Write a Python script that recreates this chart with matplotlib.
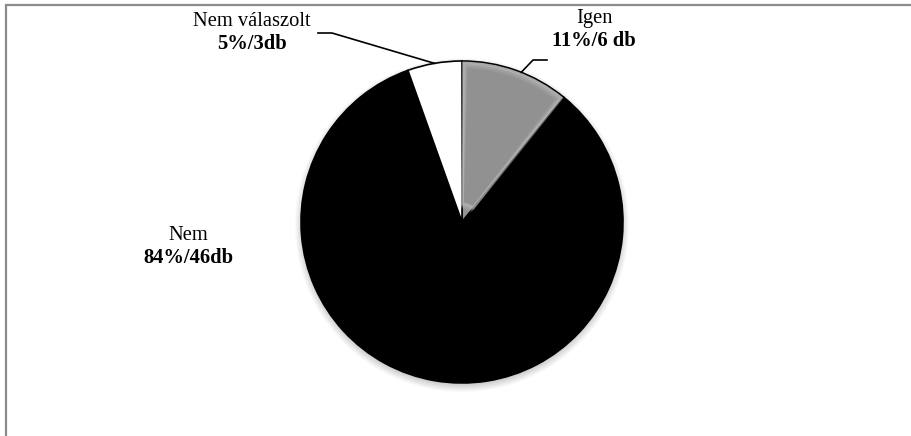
import numpy as np
import matplotlib.pyplot as plt
from matplotlib.patches import Rectangle, Circle, Wedge

# answers and counts
labels = ["Igen", "Nem", "Nem válaszolt"]
counts = [6, 46, 3]
value_labels = ["11%/6 db", "84%/46db", "5%/3db"]
colors = ["#919191", "#000000", "#ffffff"]

W, H = 912, 436
fig = plt.figure(figsize=(W / 100, H / 100), dpi=100)
ax = fig.add_axes([0, 0, 1, 1])

cx, cy, r = 462, H - 222, 161

# soft shadow under the pie
for k in range(8):
    ax.add_patch(Circle((cx, cy - 3), r + 6 - k, color="black", alpha=0.025, lw=0, zorder=0))

wedges, _ = ax.pie(
    counts,
    startangle=90,
    counterclock=False,
    colors=colors,
    center=(cx, cy),
    radius=r,
    wedgeprops=dict(edgecolor="black", linewidth=1.2),
)
for w in wedges:
    w.set_zorder(2)

# lighter bevel inside the grey slice
g = wedges[0]
for i, a in enumerate([0.5, 0.3, 0.15]):
    ax.add_patch(Wedge((cx, cy), r - 2 - 2 * i, g.theta1 + 0.5 + 0.6 * i, g.theta2 - 0.5 - 0.6 * i,
                       width=r - 20, facecolor="none", edgecolor="#c4c4c4",
                       alpha=a, lw=2, zorder=3))


def edge_point(w, frac=0.5):
    ang = np.deg2rad(w.theta1 + (w.theta2 - w.theta1) * frac)
    return cx + r * np.cos(ang), cy + r * np.sin(ang)


font = dict(family="Liberation Serif", fontsize=14.8, color="black", ha="center", va="center")

# Igen
ax.text(594, H - 18, labels[0], **font)
ax.text(594, H - 41, value_labels[0], fontweight="bold", **font)
px, py = edge_point(wedges[0], 0.45)
ax.plot([px, 533, 547], [py, H - 60, H - 60], color="black", lw=1.2, zorder=4)

# Nem
ax.text(188, H - 235, labels[1], **font)
ax.text(188, H - 258, value_labels[1], fontweight="bold", **font)

# Nem válaszolt
ax.text(252, H - 21, labels[2], **font)
ax.text(252, H - 44, value_labels[2], fontweight="bold", **font)
px, py = edge_point(wedges[2], 0.5)
ax.plot([318, 332, px], [H - 33, H - 33, py], color="black", lw=1.2, zorder=4)

ax.set_xlim(0, W)
ax.set_ylim(0, H)
ax.axis("off")

# chart area border
fig.patches.append(Rectangle((6.5 / W, -0.1), 2, (H - 5.5) / H + 0.1, transform=fig.transFigure,
                             fill=False, edgecolor="#8c8c8c", lw=1.6))

fig.savefig("out.png", dpi=100)
